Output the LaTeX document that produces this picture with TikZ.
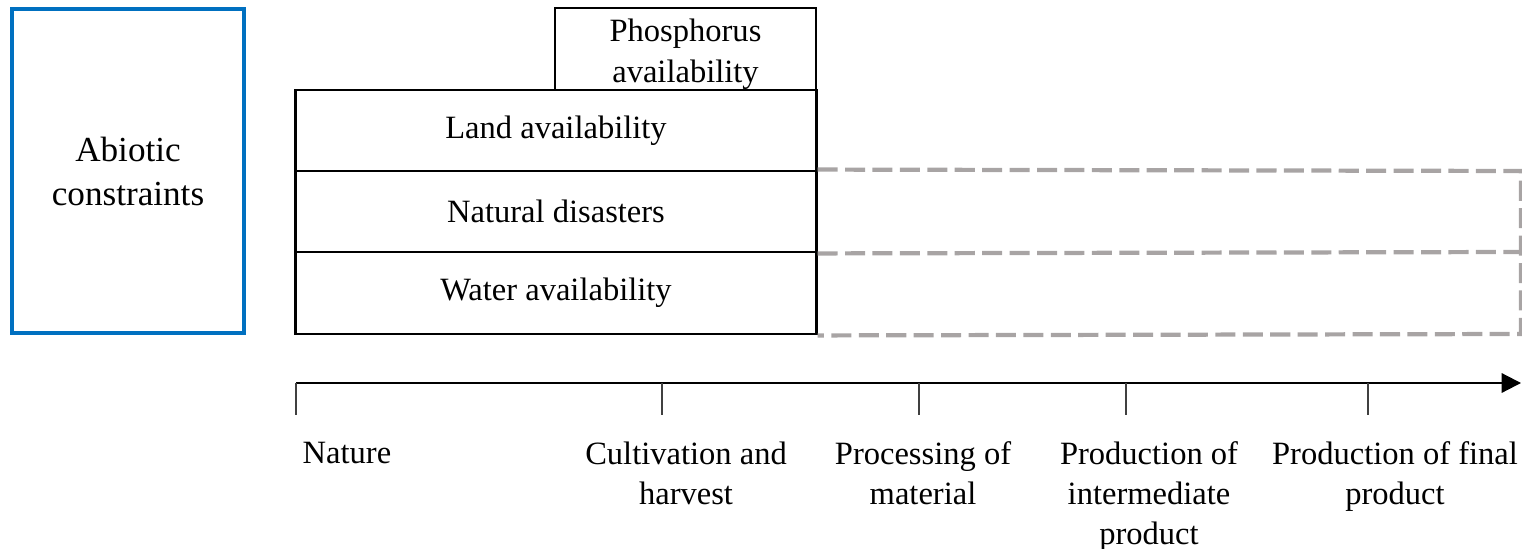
\documentclass[tikz,border=0pt]{standalone}
\usepackage{fontspec}
\setmainfont{Liberation Serif}
\usetikzlibrary{arrows.meta}
\definecolor{abioblue}{RGB}{0,112,192}
\definecolor{dashgrey}{RGB}{168,164,164}
\tikzset{
  abiotic/.style={draw=abioblue, line width=1.2pt, align=center, minimum width=2.32cm, minimum height=3.24cm, font=\fontsize{10}{12.5}\selectfont},
  factor/.style={draw, line width=0.8pt, align=center, minimum width=5.2cm, minimum height=0.81cm, inner sep=0pt},
  later/.style={draw=dashgrey, line width=1.2pt, dash pattern=on 5.7pt off 2.1pt},
  tick/.style={draw=black!75, line width=0.45pt},
  stage/.style={anchor=north, align=center, inner sep=0pt}
}
\begin{document}
\begin{tikzpicture}[x=0.01cm, y=-0.01cm, >={Triangle[length=5.5pt,width=5.5pt]}, font=\fontsize{9.25}{11.4}\selectfont]
\useasboundingbox (0,0) rectangle (1522,549);
\node[abiotic] (abio) at (128,171) {Abiotic\\constraints};
\node[factor] (land) at (556,130.5) {Land availability};
\node[factor] (dis) at (556,211.5) {Natural disasters};
\node[factor, minimum height=0.82cm] (water) at (556,293) {Water availability};
\node[factor, minimum width=2.61cm, minimum height=0.82cm] (phos) at (685.5,49) {\rule{0pt}{9.4pt}Phosphorus\\availability};
% dashed continuation of the constraints
\coordinate (r1) at (1521,171);
\coordinate (r2) at (1521,252);
\coordinate (r3) at (1521,334);
\draw[later] (dis.north east) -- (r1) -- (r3) -- (water.south east);
\draw[later] (dis.south east) -- (r2);
% value chain axis
\coordinate (t0) at (296,383);
\coordinate (tend) at (1521,383);
\draw[->, line width=0.6pt] (t0) -- (tend);
\foreach \x in {296,662,919,1126,1368}
  \draw[tick] (\x,383) -- (\x,415);
\node[stage, anchor=north west] (nature) at (302,441) {Nature};
\node[stage] (cult) at (686,441) {Cultivation and\\harvest};
\node[stage] (proc) at (923,441) {Processing of\\material};
\node[stage] (inter) at (1149,441) {Production of\\intermediate\\product};
\node[stage] (final) at (1395,441) {Production of final\\product};
\end{tikzpicture}
\end{document}
